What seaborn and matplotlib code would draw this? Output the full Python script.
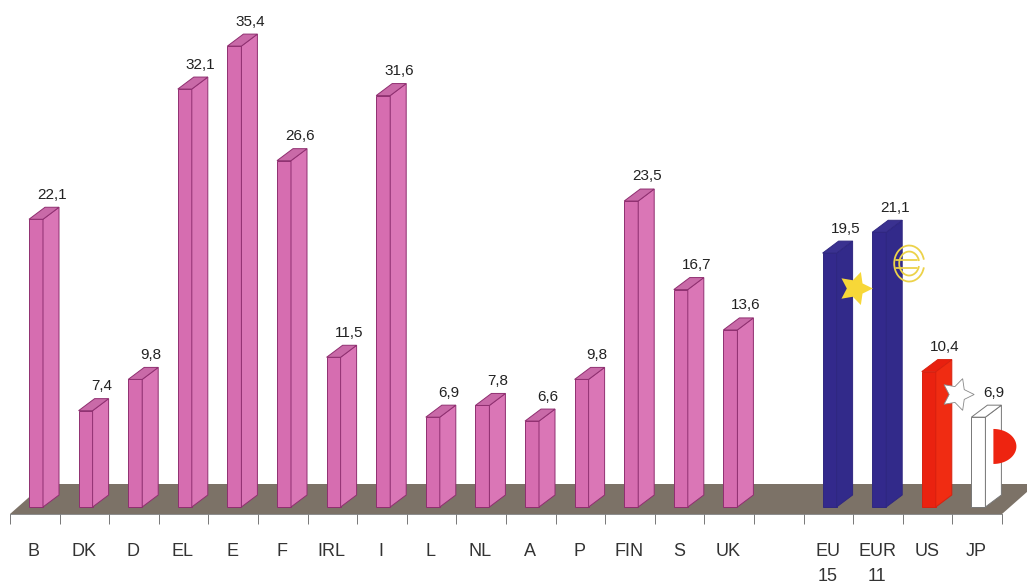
import matplotlib
matplotlib.use('Agg')
import matplotlib.pyplot as plt
from matplotlib.patches import Arc
import numpy as np
import pandas as pd
import seaborn as sns

# Values
labels = ['B', 'DK', 'D', 'EL', 'E', 'F', 'IRL', 'I', 'L', 'NL', 'A', 'P', 'FIN', 'S', 'UK',
          'EU\n15', 'EUR\n11', 'US', 'JP']
values = [22.1, 7.4, 9.8, 32.1, 35.4, 26.6, 11.5, 31.6, 6.9, 7.8, 6.6, 9.8, 23.5, 16.7, 13.6,
          19.5, 21.1, 10.4, 6.9]
slots = list(range(15)) + [16, 17, 18, 19]

front_colors = ['#d66db0'] * 15 + ['#33298c', '#33298c', '#ea2210', '#ffffff']
side_colors = ['#da76b6'] * 15 + ['#322a8a', '#322a8a', '#f02c12', '#ffffff']
top_colors = ['#c96aa8'] * 15 + ['#3a3190', '#3a3190', '#e8200f', '#ffffff']
edge_colors = ['#8f2f70'] * 15 + ['#2f2780', '#2f2780', '#d8200f', '#777777']

# Pixel scale of the original plot
PX_SLOT = 49.6
PX_UNIT = 13.02
X0, Y0 = 10, 507
W, H = 1027, 584

sx = 1 / PX_SLOT
sy = 1 / PX_UNIT
bar_width = 14 * sx
depth_x = 16 * sx
depth_y = 12 * sy
offset = 26 * sx

sns.set_theme(style='white')
plt.rcParams['font.family'] = ['Liberation Sans', 'DejaVu Sans']

df = pd.DataFrame({'label': labels, 'value': values, 'pos': [s + offset for s in slots]})

fig = plt.figure(figsize=(W / 100, H / 100), dpi=100)
ax = fig.add_axes([0, 0, 1, 1])
ax.set_xlim(-X0 * sx, (W - X0) * sx)
ax.set_ylim((Y0 - H) * sy, Y0 * sy)

# Floor
floor_y = -7 * sy
floor_dx = 34 * sx
floor_dy = 30 * sy
ax.fill([0, 20, 20 + floor_dx, floor_dx],
        [floor_y, floor_y, floor_y + floor_dy, floor_y + floor_dy],
        color='#7c7267', lw=0, zorder=0.5)

sns.barplot(data=df, x='pos', y='value', hue='label', hue_order=labels,
            palette=dict(zip(labels, front_colors)), native_scale=True, dodge=False,
            width=bar_width, saturation=1, legend=False, ax=ax, zorder=2)
for cont, ec in zip(ax.containers, edge_colors):
    for bar in cont:
        bar.set_edgecolor(ec)
        bar.set_linewidth(0.7)

# Side and top faces
for pos, val, side, top, ec in zip(df['pos'], values, side_colors, top_colors, edge_colors):
    right = pos + bar_width / 2
    left = pos - bar_width / 2
    ax.fill([right, right + depth_x, right + depth_x, right],
            [0, depth_y, val + depth_y, val],
            facecolor=side, edgecolor=ec, lw=0.7, zorder=2)
    ax.fill([left, right, right + depth_x, left + depth_x],
            [val, val, val + depth_y, val + depth_y],
            facecolor=top, edgecolor=ec, lw=0.7, zorder=2)
    ax.annotate(f'{val:.1f}'.replace('.', ','), (right + depth_x / 2, val + depth_y),
                xytext=(0.5, 4), textcoords='offset points', ha='center', va='bottom',
                fontsize=11, color='#222222')

# Symbols on the aggregate bars
eu_pos, eur_pos, us_pos, jp_pos = df['pos'].iloc[15:]
ax.plot(eu_pos + 25 * sx, 16.8, marker=(5, 1, -90), ms=25, color='#f7d738', mew=0, zorder=3)

euro_x = eur_pos + 30 * sx
euro_y = 18.7
for w, h in [(30, 36), (20, 24)]:
    ax.add_patch(Arc((euro_x, euro_y), w * sx, h * sy, theta1=45, theta2=315,
                     color='#ecd24a', lw=1.3, zorder=3))
for dy in [4, -4]:
    ax.plot([euro_x - 13 * sx, euro_x + 8 * sx], [euro_y + dy * sy] * 2,
            color='#ecd24a', lw=1.3, zorder=3)

ax.plot(us_pos + 28 * sx, 8.7, marker=(5, 1, -90), ms=24, mfc='white', mec='#888888', mew=0.6, zorder=3)

theta = np.linspace(-np.pi / 2, np.pi / 2, 60)
ax.fill(jp_pos + 15 * sx + 23 * sx * np.cos(theta), 4.65 + 17.5 * sy * np.sin(theta),
        color='#ee2410', lw=0, zorder=3)

# Axis ticks and labels
for name in ['top', 'left', 'right']:
    ax.spines[name].set_visible(False)
ax.spines['bottom'].set_position(('data', floor_y))
ax.spines['bottom'].set_color('#777777')
ax.spines['bottom'].set_linewidth(0.6)
ax.spines['bottom'].set_bounds(0, 20)
ax.set_yticks([])
ax.set_xticks(range(21))
ax.set_xticklabels([])
ax.tick_params(axis='x', bottom=True, length=7.5, width=0.7, color='#777777')
ax.set_xlabel('')
ax.set_ylabel('')

for pos, label in zip(df['pos'], labels):
    ax.text(pos - 2 * sx, -35.5 * sy, label, ha='center', va='top', fontsize=13,
            color='#333333', linespacing=1.65)

fig.savefig('out.png', dpi=100)
